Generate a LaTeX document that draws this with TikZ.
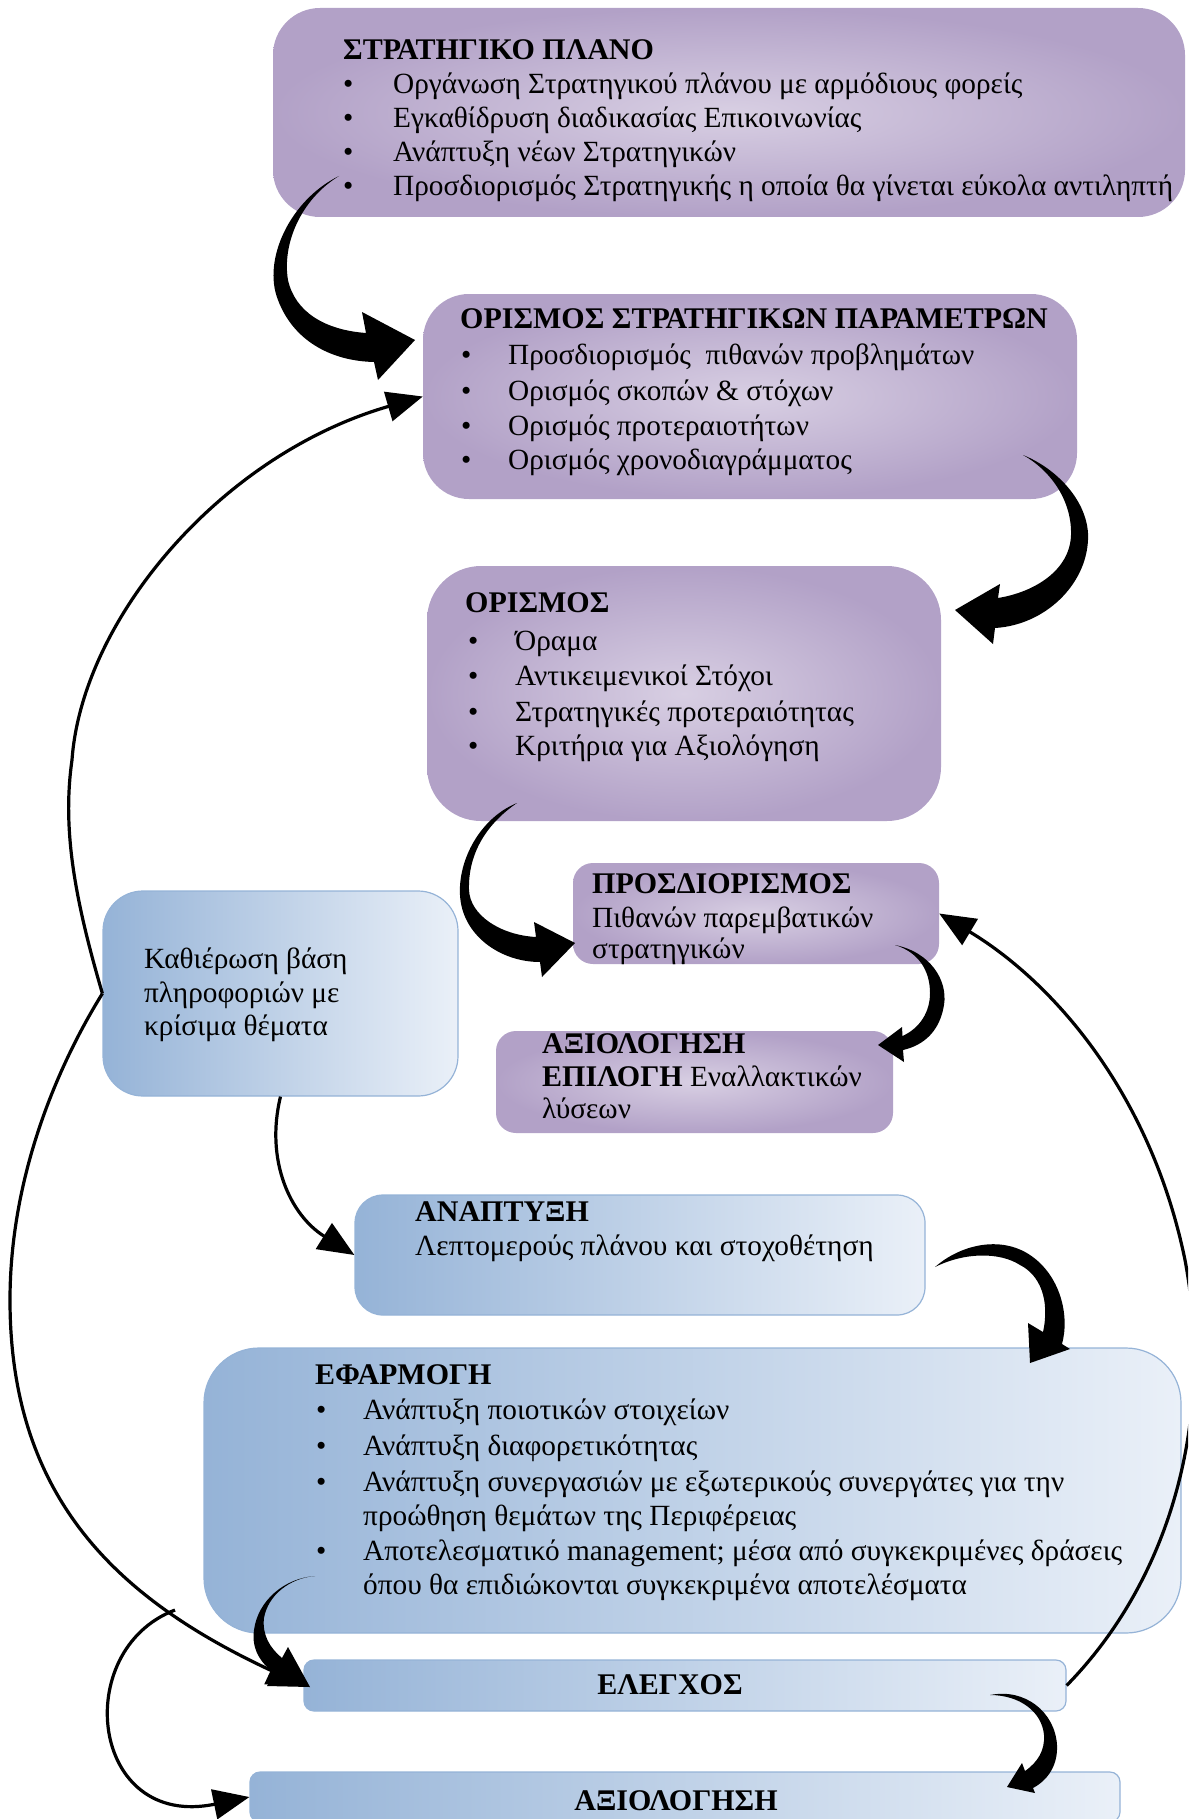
\documentclass[tikz,border=0pt]{standalone}
\usepackage{fontspec}
\setmainfont{Liberation Serif}
\usetikzlibrary{arrows.meta}
\definecolor{purpD}{HTML}{B2A1C7}
\definecolor{purpL}{HTML}{D8CFE3}
\definecolor{blueL}{HTML}{95B3D7}
\definecolor{blueR}{HTML}{EAF0F8}
\definecolor{blueB}{HTML}{95B3D7}
\begin{document}
\begin{tikzpicture}[x=1pt,y=-1pt,
  pbox/.style={rectangle, inner sep=0pt, inner color=purpL, outer color=purpD},
  bbox/.style={rectangle, inner sep=0pt, left color=blueL, right color=blueR, draw=blueB, line width=1.2pt},
  txt/.style={anchor=base west, inner sep=0pt, font=\fontsize{29.3}{35}\selectfont},
  ttl/.style={anchor=base west, inner sep=0pt, font=\fontsize{30}{36}\selectfont\bfseries},
  ctr/.style={anchor=base, inner sep=0pt, font=\fontsize{30}{36}\selectfont\bfseries},
  blk/.style={fill=black},
  thinarrow/.style={draw=black, line width=3.2pt, -{Triangle[length=36pt,width=30pt]}}
]
\useasboundingbox (0,0) rectangle (1188,1819);
\clip (0,0) rectangle (1188,1819);

% ---------- boxes ----------
\node[pbox, minimum width=912pt, minimum height=209pt, rounded corners=47pt] (plan) at (729,112.5) {};
\node[pbox, minimum width=654pt, minimum height=205pt, rounded corners=46pt] (params) at (750,396.5) {};
\node[pbox, minimum width=514pt, minimum height=255pt, rounded corners=54pt] (def) at (684,693.5) {};
\node[pbox, minimum width=366pt, minimum height=101pt, rounded corners=20pt] (ident) at (756,913.5) {};
\node[pbox, minimum width=397pt, minimum height=102pt, rounded corners=20pt] (evalsel) at (694.5,1082) {};
\node[bbox, minimum width=355pt, minimum height=205pt, rounded corners=40pt] (kb) at (280.5,993.5) {};
\node[bbox, minimum width=570pt, minimum height=120pt, rounded corners=28pt] (dev) at (640,1255) {};
\node[bbox, minimum width=977pt, minimum height=285pt, rounded corners=55pt] (impl) at (692.5,1490.5) {};
\node[bbox, minimum width=762pt, minimum height=51pt, rounded corners=10pt] (ctrl) at (685,1685.5) {};
\node[bbox, minimum width=870pt, minimum height=50pt, rounded corners=10pt] (evalf) at (685,1797) {};

% ---------- texts ----------
\node[ttl] (t1) at (343,60) {ΣΤΡΑΤΗΓΙΚΟ ΠΛΑΝΟ};
\node[txt] (b1a) at (343,94) {•};  \node[txt] (l1a) at (393,94) {Οργάνωση Στρατηγικού πλάνου με αρμόδιους φορείς};
\node[txt] (b1b) at (343,128) {•}; \node[txt] (l1b) at (393,128) {Εγκαθίδρυση διαδικασίας Επικοινωνίας};
\node[txt] (b1c) at (343,162) {•}; \node[txt] (l1c) at (393,162) {Ανάπτυξη νέων Στρατηγικών};
\node[txt] (b1d) at (343,196) {•}; \node[txt] (l1d) at (393,196) {Προσδιορισμός Στρατηγικής η οποία θα γίνεται εύκολα αντιληπτή};

\node[ttl] (t2) at (460,328) {ΟΡΙΣΜΟΣ ΣΤΡΑΤΗΓΙΚΩΝ ΠΑΡΑΜΕΤΡΩΝ};
\node[txt] (b2a) at (461,364) {•}; \node[txt] (l2a) at (508,364) {Προσδιορισμός\ \ πιθανών προβλημάτων};
\node[txt] (b2b) at (461,400) {•}; \node[txt] (l2b) at (508,400) {Ορισμός σκοπών \& στόχων};
\node[txt] (b2c) at (461,435) {•}; \node[txt] (l2c) at (508,435) {Ορισμός προτεραιοτήτων};
\node[txt] (b2d) at (461,469) {•}; \node[txt] (l2d) at (508,469) {Ορισμός χρονοδιαγράμματος};

\node[ttl] (t3) at (465,612) {ΟΡΙΣΜΟΣ};
\node[txt] (b3a) at (468,650) {•}; \node[txt] (l3a) at (515,650) {Όραμα};
\node[txt] (b3b) at (468,685) {•}; \node[txt] (l3b) at (515,685) {Αντικειμενικοί Στόχοι};
\node[txt] (b3c) at (468,721) {•}; \node[txt] (l3c) at (515,721) {Στρατηγικές προτεραιότητας};
\node[txt] (b3d) at (468,755) {•}; \node[txt] (l3d) at (515,755) {Κριτήρια για Αξιολόγηση};

\node[ttl] (t4) at (592,893) {ΠΡΟΣΔΙΟΡΙΣΜΟΣ};
\node[txt] (l4a) at (592,927) {Πιθανών παρεμβατικών};
\node[txt] (l4b) at (592,958) {στρατηγικών};

\node[ttl] (t5) at (542,1053) {ΑΞΙΟΛΟΓΗΣΗ};
\node[txt] (l5a) at (542,1086) {{\fontsize{30}{36}\selectfont\bfseries ΕΠΙΛΟΓΗ} Εναλλακτικών};
\node[txt] (l5b) at (542,1118) {λύσεων};

\node[txt] (l6a) at (144,968) {Καθιέρωση βάση};
\node[txt] (l6b) at (144,1002) {πληροφοριών με};
\node[txt] (l6c) at (144,1035) {κρίσιμα θέματα};

\node[ttl] (t7) at (415,1221) {ΑΝΑΠΤΥΞΗ};
\node[txt] (l7a) at (415,1255) {Λεπτομερούς πλάνου και στοχοθέτηση};

\node[ttl] (t8) at (315,1384) {ΕΦΑΡΜΟΓΗ};
\node[txt] (b8a) at (316,1419) {•}; \node[txt] (l8a) at (363,1419) {Ανάπτυξη ποιοτικών στοιχείων};
\node[txt] (b8b) at (316,1455) {•}; \node[txt] (l8b) at (363,1455) {Ανάπτυξη διαφορετικότητας};
\node[txt] (b8c) at (316,1491) {•}; \node[txt] (l8c) at (363,1491) {Ανάπτυξη συνεργασιών με εξωτερικούς συνεργάτες για την};
\node[txt] (l8d) at (363,1525) {προώθηση θεμάτων της Περιφέρειας};
\node[txt] (b8e) at (316,1560) {•}; \node[txt] (l8e) at (363,1560) {Αποτελεσματικό management; μέσα από συγκεκριμένες δράσεις};
\node[txt] (l8f) at (363,1594) {όπου θα επιδιώκονται συγκεκριμένα αποτελέσματα};

\node[ctr] (t9) at (670,1694) {ΕΛΕΓΧΟΣ};
\node[ctr] (t10) at (676,1810) {ΑΞΙΟΛΟΓΗΣΗ};

% ---------- thick curved arrows ----------
% plan -> params
\fill[blk] (339,176) .. controls (290,200) and (262,260) .. (278,300) .. controls (293,340) and (330,361) .. (374,362) -- (378,380) -- (415,340) -- (362,312) -- (366,333) .. controls (325,330) and (295,312) .. (288,280) .. controls (282,245) and (300,200) .. (339,176) -- cycle;
% params -> def
\fill[blk] (1023,455) .. controls (1060,470) and (1090,505) .. (1088,540) .. controls (1086,585) and (1045,625) .. (995,628) -- (993,644) -- (955,610) -- (1000,584) -- (998,598) .. controls (1035,592) and (1070,570) .. (1071,535) .. controls (1072,500) and (1050,470) .. (1023,455) -- cycle;
% def -> ident
\fill[blk] (517,803) .. controls (480,818) and (458,860) .. (460,895) .. controls (462,935) and (500,962) .. (540,962) -- (542,977) -- (575,943) -- (534,922) -- (536,937) .. controls (500,935) and (470,915) .. (469,890) .. controls (468,855) and (485,825) .. (517,803) -- cycle;
% ident -> evalsel
\fill[blk] (895,945) .. controls (930,952) and (948,980) .. (944,1005) .. controls (940,1030) and (925,1045) .. (903,1050) -- (904,1062) -- (878,1045) -- (902,1027) -- (902.5,1036) .. controls (920,1028) and (930,1012) .. (930,993) .. controls (930,970) and (918,952) .. (895,945) -- cycle;
% dev -> impl
\fill[blk] (935,1267) .. controls (960,1245) and (1000,1235) .. (1030,1255) .. controls (1060,1275) and (1070,1315) .. (1062,1344) -- (1070,1349) -- (1030,1363) -- (1028,1323) -- (1043,1332) .. controls (1050,1300) and (1040,1275) .. (1020,1265) .. controls (1000,1252) and (965,1252) .. (935,1267) -- cycle;
% impl -> ctrl
\fill[blk] (315,1576) .. controls (285,1578) and (258,1600) .. (254,1630) .. controls (251,1650) and (262,1664) .. (274,1673) -- (267,1686) -- (310,1687) -- (288,1647) -- (282,1658) .. controls (270,1648) and (262,1635) .. (264,1618) .. controls (268,1595) and (290,1578) .. (315,1576) -- cycle;
% ctrl -> evalf
\fill[blk] (990,1695) .. controls (1025,1688) and (1055,1712) .. (1057,1745) .. controls (1058,1765) and (1048,1780) .. (1033,1788) -- (1035,1793) -- (1007,1787) -- (1022,1763) -- (1025,1771) .. controls (1038,1762) and (1045,1750) .. (1044,1735) .. controls (1042,1712) and (1020,1695) .. (990,1695) -- cycle;

% ---------- thin arrows ----------
\draw[thinarrow] (kb.west) .. controls (75,900) and (62,830) .. (72,760) .. controls (82,620) and (220,455) .. (params.west);
\draw[thinarrow] (kb.south) .. controls (265,1160) and (290,1215) .. (dev.west);
\draw[thinarrow] (kb.west) .. controls (55,1070) and (10,1180) .. (10,1300) .. controls (10,1500) and (120,1600) .. (ctrl.west);
\coordinate (branch) at (175,1610);
\draw[thinarrow] (branch) .. controls (70,1650) and (90,1830) .. (evalf.west);
\draw[thinarrow] (ctrl.east) .. controls (1170,1580) and (1215,1420) .. (1185,1260) .. controls (1150,1090) and (1050,980) .. (ident.east);
\end{tikzpicture}
\end{document}
